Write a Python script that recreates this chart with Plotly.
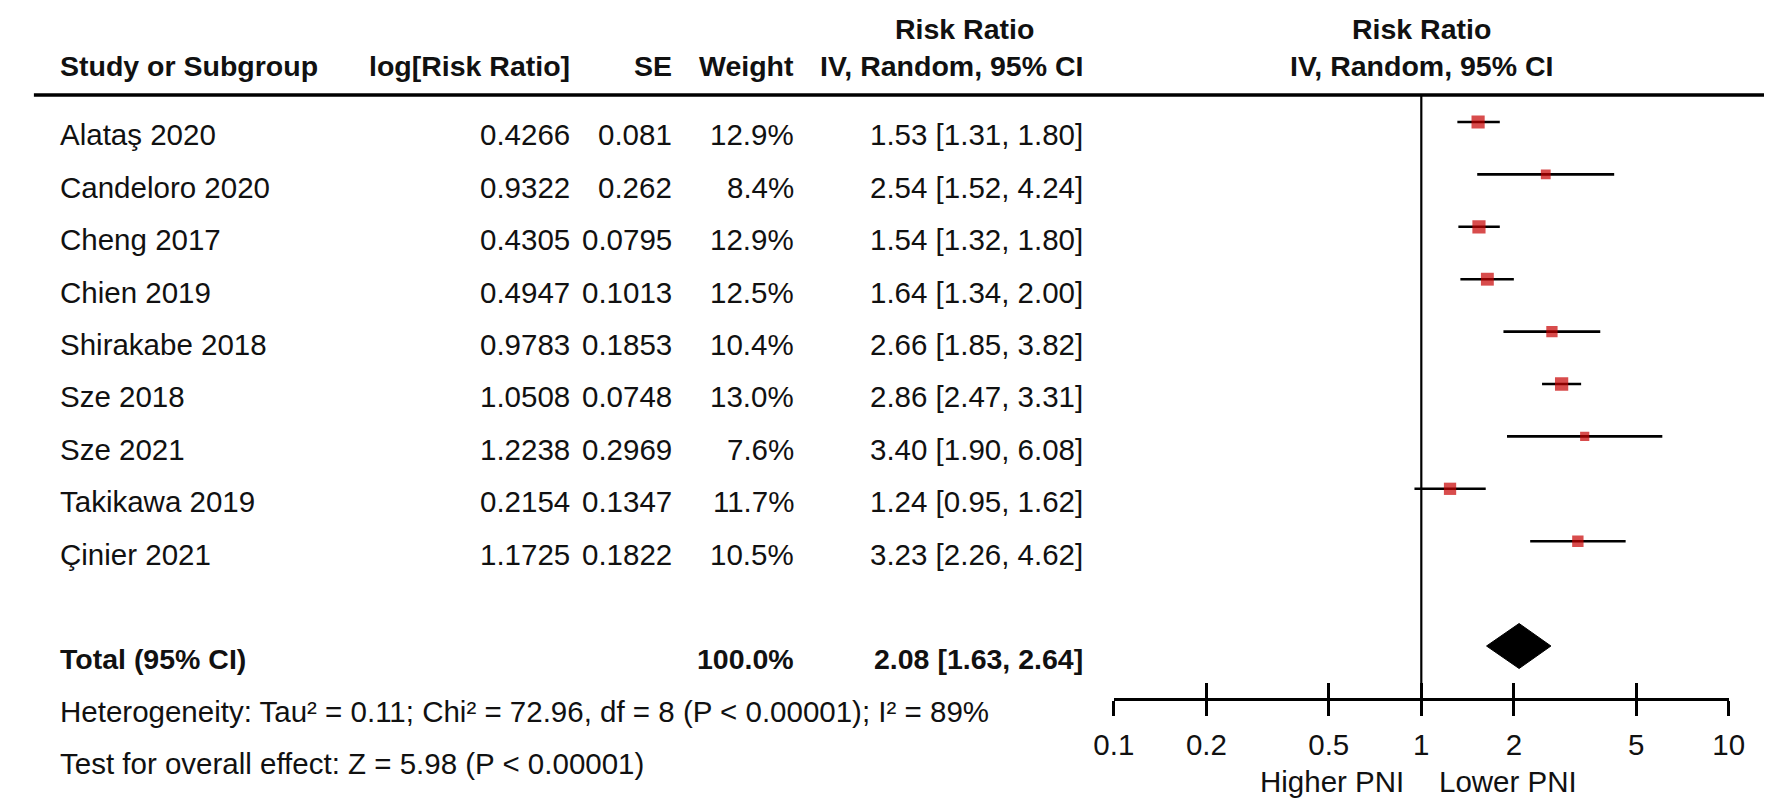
import plotly.graph_objects as go

# ---------------- data ----------------
studies = ["Alataş 2020", "Candeloro 2020", "Cheng 2017", "Chien 2019", "Shirakabe 2018",
           "Sze 2018", "Sze 2021", "Takikawa 2019", "Çinier 2021"]
log_rr = [0.4266, 0.9322, 0.4305, 0.4947, 0.9783, 1.0508, 1.2238, 0.2154, 1.1725]
se = [0.081, 0.262, 0.0795, 0.1013, 0.1853, 0.0748, 0.2969, 0.1347, 0.1822]
weight = [12.9, 8.4, 12.9, 12.5, 10.4, 13.0, 7.6, 11.7, 10.5]
rr = [1.53, 2.54, 1.54, 1.64, 2.66, 2.86, 3.40, 1.24, 3.23]
ci_lo = [1.31, 1.52, 1.32, 1.34, 1.85, 2.47, 1.90, 0.95, 2.26]
ci_hi = [1.80, 4.24, 1.80, 2.00, 3.82, 3.31, 6.08, 1.62, 4.62]

total_weight = 100.0
total_rr = 2.08
total_lo = 1.63
total_hi = 2.64

tick_vals = [0.1, 0.2, 0.5, 1, 2, 5, 10]
tick_text = ["0.1", "0.2", "0.5", "1", "2", "5", "10"]

heterogeneity = "Heterogeneity: Tau² = 0.11; Chi² = 72.96, df = 8 (P &lt; 0.00001); I² = 89%"
overall = "Test for overall effect: Z = 5.98 (P &lt; 0.00001)"
left_label = "Higher PNI"
right_label = "Lower PNI"

# ---------------- layout geometry (pixels) ----------------
W, H = 1772, 803
FONT = "Liberation Sans, Arial, sans-serif"
FS = 29.5
FSB = 28.5
TXT = "#111111"

row_y0, row_dy = 114, 52.4      # y of CI line of first study, row pitch
text_dy = 13                    # text centre sits a little below the CI line
total_row = 10                  # row index of the pooled estimate
het_row, test_row = 11, 12
axis_y = 690
header_line_y = 87
hdr1_y, hdr2_y = 21, 58
ax_left, ax_right = 1108, 1736
dir_label_y = 773

col_name = 30
col_log = 555
col_se = 659
col_w = 783
col_ci = 1079
col_hdr_ci = 955


def X(px):
    return px / W


def Y(px):
    return 1 - px / H


row_ys = [row_y0 + row_dy * i for i in range(len(studies))]
total_y = row_y0 + row_dy * total_row
het_y = row_y0 + row_dy * het_row + text_dy
test_y = row_y0 + row_dy * test_row + text_dy

fig = go.Figure()

# CI lines
xs, ys = [], []
for lo, hi, y in zip(ci_lo, ci_hi, row_ys):
    xs += [lo, hi, None]
    ys += [y, y, None]
fig.add_trace(go.Scatter(x=xs, y=ys, mode="lines", line=dict(color="black", width=2.6),
                         hoverinfo="skip", showlegend=False))

# squares (size by weight)
fig.add_trace(go.Scatter(x=rr, y=row_ys, mode="markers",
                         marker=dict(symbol="square", color="#C80000",
                                     size=[0.75 * w + 3.5 for w in weight], line=dict(width=0)),
                         showlegend=False))

# pooled diamond
dh = 22.5
fig.add_trace(go.Scatter(x=[total_lo, total_rr, total_hi, total_rr, total_lo],
                         y=[total_y, total_y - dh, total_y, total_y + dh, total_y],
                         mode="lines", fill="toself", fillcolor="black",
                         line=dict(color="black", width=1), showlegend=False))

# line of no effect
fig.add_trace(go.Scatter(x=[1, 1], y=[header_line_y, axis_y], mode="lines",
                         line=dict(color="black", width=2.2), showlegend=False))

# invisible trace on the overlay axis (upward tick halves)
fig.add_trace(go.Scatter(x=[1], y=[axis_y], xaxis="x2", mode="markers",
                         marker=dict(opacity=0), showlegend=False, hoverinfo="skip"))

dom = [X(ax_left), X(ax_right)]
fig.update_layout(
    width=W, height=H, margin=dict(l=0, r=0, t=0, b=0),
    paper_bgcolor="white", plot_bgcolor="white",
    font=dict(family=FONT, size=FS, color=TXT),
    xaxis=dict(type="log", range=[-1, 1], domain=dom, tickvals=tick_vals, ticktext=tick_text,
               showline=True, linecolor="black", linewidth=2.6, ticks="outside", ticklen=15,
               tickwidth=2.6, tickcolor="black", showgrid=False, zeroline=False,
               tickfont=dict(family=FONT, size=FS, color=TXT), ticklabelstandoff=4,
               anchor="y"),
    xaxis2=dict(type="log", range=[-1, 1], domain=dom, overlaying="x", anchor="y",
                tickvals=tick_vals, showticklabels=False, ticks="inside", ticklen=15,
                tickwidth=2.6, tickcolor="black", showgrid=False, zeroline=False, showline=False),
    yaxis=dict(domain=[Y(axis_y), 1], range=[axis_y, 0], visible=False, showgrid=False,
               zeroline=False),
    showlegend=False,
)

# header rule
fig.add_shape(type="line", xref="paper", yref="paper", x0=X(5), x1=1, y0=Y(header_line_y),
              y1=Y(header_line_y), line=dict(color="black", width=3.5))

ann = []


def txt(s, x, y, xa, bold=False):
    ann.append(dict(text=f"<b>{s}</b>" if bold else s, x=X(x), y=Y(y), xref="paper", yref="paper",
                    xanchor=xa, yanchor="middle", showarrow=False,
                    font=dict(family=FONT, size=FSB if bold else FS, color=TXT)))


x_one = (ax_left + ax_right) / 2

# headers
txt("Risk Ratio", col_hdr_ci, hdr1_y, "center", True)
txt("Risk Ratio", x_one, hdr1_y, "center", True)
txt("Study or Subgroup", col_name, hdr2_y, "left", True)
txt("log[Risk Ratio]", col_log, hdr2_y, "right", True)
txt("SE", col_se, hdr2_y, "right", True)
txt("Weight", col_w, hdr2_y, "right", True)
txt("IV, Random, 95% CI", col_ci, hdr2_y, "right", True)
txt("IV, Random, 95% CI", x_one, hdr2_y, "center", True)

# study rows
for name, l, s, w, r, lo, hi, y in zip(studies, log_rr, se, weight, rr, ci_lo, ci_hi, row_ys):
    ty = y + text_dy
    txt(name, col_name, ty, "left")
    txt(f"{l:.4f}", col_log, ty, "right")
    txt(str(s), col_se, ty, "right")
    txt(f"{w:.1f}%", col_w, ty, "right")
    txt(f"{r:.2f} [{lo:.2f}, {hi:.2f}]", col_ci, ty, "right")

# pooled row and footnotes
ty = total_y + text_dy
txt("Total (95% CI)", col_name, ty, "left", True)
txt(f"{total_weight:.1f}%", col_w, ty, "right", True)
txt(f"{total_rr:.2f} [{total_lo:.2f}, {total_hi:.2f}]", col_ci, ty, "right", True)
txt(heterogeneity, col_name, het_y, "left")
txt(overall, col_name, test_y, "left")

# direction labels
txt(left_label, x_one - 16, dir_label_y, "right")
txt(right_label, x_one + 16, dir_label_y, "left")

fig.update_layout(annotations=ann)
fig.write_html("out.html")
